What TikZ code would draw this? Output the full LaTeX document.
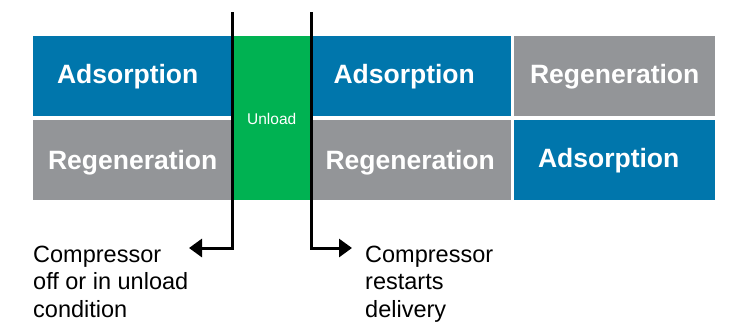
\documentclass[tikz,border=0pt]{standalone}
\usepackage{fontspec}
\setmainfont{Liberation Sans}
\usetikzlibrary{arrows.meta}
\definecolor{adsblue}{RGB}{0,118,172}
\definecolor{reggray}{RGB}{147,149,152}
\definecolor{unlgreen}{RGB}{0,178,82}
\begin{document}
\begin{tikzpicture}[x=1pt,y=-1pt,
  box/.style={draw=none,inner sep=0pt,anchor=north west,minimum height=80pt},
  lbl/.style={text=white,font=\fontsize{26.5}{30}\selectfont\bfseries,inner sep=0pt},
  conn/.style={line width=3pt,-{Triangle[length=13pt 0,width=18pt 0]}},
  note/.style={align=left,inner sep=0pt,anchor=base west,font=\fontsize{23.5}{27.5}\selectfont}]
\useasboundingbox (0,0) rectangle (738,325);
% boxes
\node[box,fill=adsblue,minimum width=199pt] (a1) at (33,36) {};
\node[box,fill=reggray,minimum width=199pt] (r1) at (33,120) {};
\node[box,fill=unlgreen,minimum width=79pt,minimum height=164pt] (u) at (232,36) {};
\node[box,fill=adsblue,minimum width=200pt] (a2) at (311,36) {};
\node[box,fill=reggray,minimum width=200pt] (r2) at (311,120) {};
\node[box,fill=reggray,minimum width=201pt] (r3) at (514,36) {};
\node[box,fill=adsblue,minimum width=201pt] (a3) at (514,120) {};
% labels
\node[lbl] (ta1) at ([xshift=-5pt]a1.center) {Adsorption};
\node[lbl] (tr1) at ([yshift=-3pt]r1.center) {Regeneration};
\node[text=white,font=\fontsize{15.5}{18}\selectfont,inner sep=0pt] (tu) at ([yshift=-1pt]u.center) {Unload};
\node[lbl] (ta2) at ([xshift=-7pt]a2.center) {Adsorption};
\node[lbl] (tr2) at ([xshift=-1pt,yshift=-3pt]r2.center) {Regeneration};
\node[lbl] (tr3) at ([yshift=-1pt]r3.center) {Regeneration};
\node[lbl] (ta3) at ([xshift=-6pt]a3.center) {Adsorption};
% notes
\node[note] (nl) at (33,317) {Compressor\\off or in unload\\condition};
\node[note] (nr) at (365,317) {Compressor\\restarts\\delivery};
% connectors
\coordinate (lt) at (232,12);
\coordinate (lb) at (232,248);
\coordinate (le) at (189,248);
\coordinate (rt) at (311,12);
\coordinate (rb) at (311,248);
\coordinate (re) at (352,248);
\draw[conn] (lt) -- (lb) -- (le);
\draw[conn] (rt) -- (rb) -- (re);
\end{tikzpicture}
\end{document}
